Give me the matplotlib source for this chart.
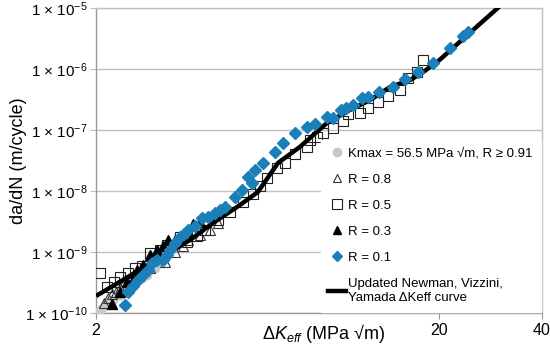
import matplotlib
matplotlib.use("Agg")
import matplotlib.pyplot as plt
from matplotlib.lines import Line2D

plt.rcParams['font.family'] = ['Liberation Sans', 'DejaVu Sans']
plt.rcParams['mathtext.fontset'] = 'custom'
plt.rcParams['mathtext.rm'] = 'Liberation Sans'
plt.rcParams['mathtext.it'] = 'Liberation Sans:italic'
plt.rcParams['mathtext.bf'] = 'Liberation Sans:bold'

# ---- data ----
kmax_dk = [2.03, 2.07, 2.11, 2.17, 2.24, 2.35, 2.48, 2.60, 2.72, 2.82, 2.97]
kmax_rate = [1.04e-10, 1.16e-10, 1.30e-10, 1.46e-10, 1.63e-10, 1.97e-10, 2.57e-10,
             3.10e-10, 3.75e-10, 4.20e-10, 5.47e-10]

r08_dk = [2.11, 2.17, 2.23, 2.29, 2.35, 2.43, 2.51, 2.65, 2.87, 3.18, 3.40, 3.59,
          3.71, 4.02, 4.30, 4.54]
r08_rate = [1.46e-10, 1.76e-10, 2.05e-10, 2.21e-10, 2.57e-10, 3.35e-10, 3.48e-10,
            4.20e-10, 5.47e-10, 6.86e-10, 1.0e-9, 1.25e-9, 1.57e-9, 1.90e-9,
            2.30e-9, 2.99e-9]

r05_dk = [2.05, 2.15, 2.26, 2.35, 2.48, 2.60, 2.72, 2.87, 3.07, 3.22, 3.52, 3.69,
          3.94, 4.16, 4.54, 4.92, 5.37, 5.74, 6.01, 6.30, 6.74, 7.11, 7.61, 8.25,
          8.41, 8.82, 9.18, 9.82, 10.50, 10.86, 11.77, 12.42, 13.28, 14.20, 15.40,
          16.25, 17.26, 17.97]
r05_rate = [4.53e-10, 2.67e-10, 3.22e-10, 3.89e-10, 4.53e-10, 5.47e-10, 5.89e-10,
            9.63e-10, 1.08e-9, 1.30e-9, 1.76e-9, 1.46e-9, 1.83e-9, 2.30e-9,
            3.35e-9, 4.53e-9, 6.60e-9, 8.93e-9, 1.21e-8, 1.63e-8, 2.38e-8,
            2.88e-8, 4.04e-8, 5.26e-8, 6.86e-8, 7.68e-8, 8.93e-8, 1.08e-7,
            1.41e-7, 1.83e-7, 1.90e-7, 2.30e-7, 2.88e-7, 3.61e-7, 4.53e-7,
            7.12e-7, 8.93e-7, 1.41e-6]

r03_dk = [2.23, 2.35, 2.46, 2.56, 2.63, 2.74, 2.87, 3.01, 3.14, 3.24, 3.40, 3.52,
          3.69, 3.84, 4.02]
r03_rate = [1.41e-10, 2.21e-10, 3.22e-10, 3.48e-10, 5.07e-10, 6.12e-10, 8.93e-10,
            1.08e-9, 1.25e-9, 1.57e-9, 1.57e-9, 1.83e-9, 2.21e-9, 2.88e-9, 3.10e-9]

r01_dk = [2.43, 2.48, 2.56, 2.65, 2.74, 2.84, 2.91, 3.01, 3.14, 3.22, 3.29, 3.40,
          3.52, 3.61, 3.71, 3.89, 4.07, 4.24, 4.45, 4.60, 4.75, 5.09, 5.33, 5.55,
          5.70, 5.82, 6.14, 6.65, 7.02, 7.61, 8.25, 8.70, 9.43, 9.82, 10.36,
          10.71, 11.23, 11.93, 12.42, 13.37, 14.69, 15.92, 17.37, 19.21, 21.5,
          23.5, 24.3]
r01_rate = [1.35e-10, 2.21e-10, 2.77e-10, 3.48e-10, 4.20e-10, 5.07e-10, 6.60e-10,
            7.39e-10, 7.39e-10, 8.93e-10, 1.08e-9, 1.41e-9, 1.76e-9, 1.97e-9,
            2.30e-9, 2.67e-9, 3.61e-9, 3.75e-9, 4.36e-9, 4.89e-9, 5.47e-9,
            7.98e-9, 1.04e-8, 1.70e-8, 1.35e-8, 2.21e-8, 2.88e-8, 4.36e-8,
            6.12e-8, 8.93e-8, 1.12e-7, 1.25e-7, 1.63e-7, 1.57e-7, 2.13e-7,
            2.30e-7, 2.57e-7, 3.35e-7, 3.48e-7, 4.20e-7, 5.07e-7, 6.86e-7,
            8.93e-7, 1.25e-6, 2.21e-6, 3.48e-6, 4.04e-6]

curve_dk = [2.0, 3.76, 4.39, 5.26, 5.93, 6.79, 7.87, 9.43, 11.0, 12.6, 14.4, 16.5,
            18.0, 20.1, 24.6, 29.7, 31.0]
curve_rate = [1.90e-10, 1.57e-9, 2.99e-9, 5.9e-9, 9.6e-9, 2.88e-8, 5.3e-8, 1.30e-7,
              2.13e-7, 3.1e-7, 5.07e-7, 6.6e-7, 8.9e-7, 1.41e-6, 3.9e-6, 1.0e-5,
              1.25e-5]

labels = ['Kmax = 56.5 MPa √m, R ≥ 0.91', 'R = 0.8', 'R = 0.5', 'R = 0.3', 'R = 0.1',
          'Updated Newman, Vizzini,\nYamada ΔKeff curve']
xtick_vals = [2, 20, 40]
ytick_vals = [1e-10, 1e-9, 1e-8, 1e-7, 1e-6, 1e-5]
ytick_labels = ['1 × 10$^{-10}$', '1 × 10$^{-9}$', '1 × 10$^{-8}$', '1 × 10$^{-7}$',
                '1 × 10$^{-6}$', '1 × 10$^{-5}$']

blue = '#1b7fb9'
gray = '#c8c8c8'

fig = plt.figure(figsize=(5.5, 3.51), dpi=100)
ax = fig.add_axes([0.1745, 0.1083, 0.8110, 0.8687])
ax.set_xscale('log')
ax.set_yscale('log')
ax.set_xlim(2, 40)
ax.set_ylim(1e-10, 1e-5)

ax.plot(kmax_dk, kmax_rate, 'o', ms=6, color=gray, mec=gray, zorder=3)
ax.plot(r08_dk, r08_rate, '^', ms=6.5, mfc='none', mec='#333333', mew=0.8, zorder=3)
ax.plot(r05_dk, r05_rate, 's', ms=7.5, mfc='none', mec='#222222', mew=0.8, zorder=3)
ax.plot(r03_dk, r03_rate, '^', ms=6.5, color='black', zorder=3)
ax.plot(curve_dk, curve_rate, '-', lw=3.2, color='black', zorder=4, solid_capstyle='butt')
ax.plot(r01_dk, r01_rate, 'D', ms=6, color=blue, mec=blue, zorder=5)

ax.set_xticks(xtick_vals)
ax.set_xticklabels([str(v) for v in xtick_vals])
ax.xaxis.set_minor_locator(matplotlib.ticker.NullLocator())
ax.set_yticks(ytick_vals)
ax.set_yticklabels(ytick_labels)
ax.yaxis.set_minor_locator(matplotlib.ticker.NullLocator())
ax.tick_params(axis='x', length=4, color='#999999', labelsize=11.5, pad=3)
ax.tick_params(axis='y', length=4, color='#bfbfbf', labelsize=11, pad=2)
ax.grid(axis='y', color='#bfbfbf', lw=1)
ax.set_axisbelow(True)
for s in ax.spines.values():
    s.set_color('#999999')
    s.set_linewidth(1)
ax.spines['top'].set_color('#bfbfbf')
ax.spines['right'].set_color('#bfbfbf')

ax.set_ylabel('da/dN (m/cycle)', fontsize=13)
ax.yaxis.set_label_coords(-0.155, 0.5)
ax.set_xlabel(r'$\Delta\mathit{K}_{\mathit{eff}}$ (MPa √m)', fontsize=13)
ax.xaxis.set_label_coords(0.51, -0.03)

handles = [
    Line2D([], [], ls='none', marker='o', ms=6, color=gray),
    Line2D([], [], ls='none', marker='^', ms=6, mfc='none', mec='#333333', mew=0.8),
    Line2D([], [], ls='none', marker='s', ms=6.5, mfc='none', mec='#222222', mew=0.8),
    Line2D([], [], ls='none', marker='^', ms=6, color='black'),
    Line2D([], [], ls='none', marker='D', ms=5, color=blue),
    Line2D([], [], ls='-', lw=3.2, color='black'),
]
leg = ax.legend(handles, labels, loc='lower right', bbox_to_anchor=(1, 0),
                borderaxespad=0.1, frameon=True, fancybox=False, framealpha=1,
                facecolor='white', edgecolor='white', fontsize=9.5,
                handlelength=1.3, handletextpad=0.2, labelspacing=1.05,
                borderpad=0.6)
leg.set_zorder(10)

fig.savefig('out.png', dpi=100)
